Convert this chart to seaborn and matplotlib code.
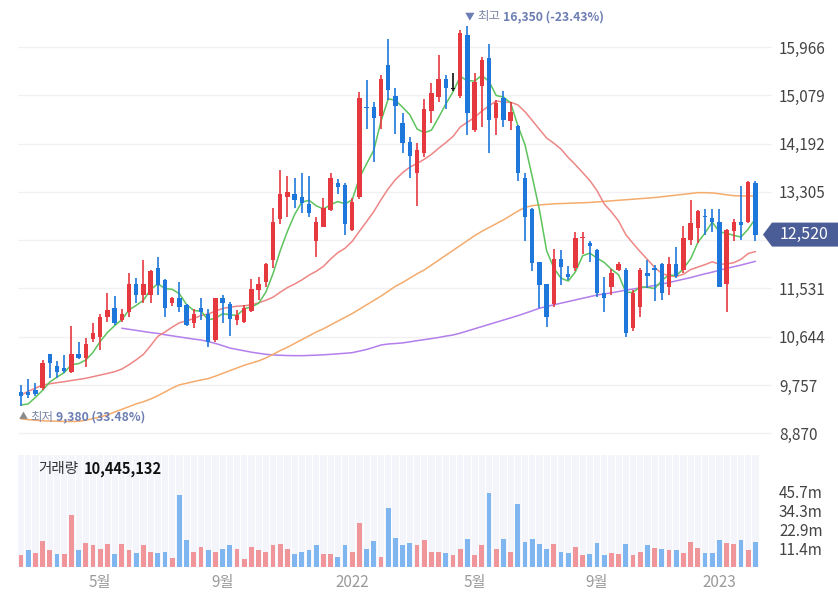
import numpy as np
import pandas as pd
import matplotlib.pyplot as plt
import seaborn as sns
from matplotlib.patches import Polygon

# weekly candles (price in won)
opens = [9622, 9629, 9665, 9696, 10320, 10112, 10076, 10002, 10320, 10253,
         10602, 10645, 11012, 11165, 10951, 11104, 11612, 11410, 11410, 11900,
         11686, 11270, 11349, 11227, 10902, 11165, 11055, 10584, 11361, 11245,
         10951, 10920, 11123, 11502, 11655, 12053, 12800, 13216, 13259, 13216,
         13082, 12408, 12665, 12972, 13461, 13431, 12604, 13216, 14857, 14870,
         14698, 15635, 15072, 14564, 14215, 13658, 14013, 14797, 15054, 15372,
         15188, 15066, 16186, 14441, 15250, 15770, 14656, 15023, 14613, 14515,
         13554, 12990, 12011, 11606, 11245, 12066, 11800, 11900, 12450, 12371,
         12236, 11453, 11563, 11870, 11869, 10810, 11196, 11808, 11912, 11973,
         11563, 11973, 11869, 12420, 12635, 12861, 12818, 12757, 11606, 12592,
         12757, 12757, 13473]
highs = [9757, 9867, 9800, 10216, 10330, 10204, 10308, 10847, 10541, 10614,
         10902, 11061, 11453, 11398, 11147, 11808, 11716, 12053, 11870, 12102,
         11710, 11380, 11643, 11245, 11147, 11349, 11147, 11360, 11410, 11288,
         11135, 11227, 11698, 11747, 11992, 13002, 13706, 13602, 13553, 13645,
         13602, 12849, 13198, 13645, 13541, 13461, 13186, 15145, 15360, 14962,
         15451, 16107, 15207, 14748, 14307, 14197, 15005, 15299, 15819, 15452,
         15482, 16278, 16350, 15482, 15789, 16021, 14992, 15158, 14962, 14533,
         13645, 13003, 12020, 11610, 12249, 12237, 11950, 12570, 12560, 12402,
         12249, 11747, 11881, 12010, 11900, 11502, 11900, 12053, 11961, 11992,
         12102, 12298, 12677, 13155, 12971, 12984, 12990, 12984, 12620, 12800,
         13412, 13504, 13504]
lows = [9380, 9512, 9560, 9665, 9880, 9880, 9984, 9984, 10240, 10094,
        10553, 10400, 10921, 10859, 10921, 11000, 11257, 11257, 11257, 11410,
        11000, 11214, 11092, 10840, 10810, 10951, 10461, 10553, 10902, 10657,
        10859, 10890, 11104, 11319, 11563, 11900, 12714, 12849, 13014, 12923,
        12849, 12102, 12653, 12953, 13259, 12512, 12592, 13168, 14453, 13860,
        14453, 14992, 14362, 14013, 13554, 13052, 13952, 14564, 14962, 14821,
        15164, 15023, 14350, 14411, 14503, 14013, 14350, 14503, 14441, 13511,
        12409, 11858, 11166, 10817, 11196, 11594, 11690, 11850, 12170, 12022,
        11379, 11104, 11410, 11850, 10644, 10749, 11012, 11532, 11306, 11318,
        11410, 11716, 11808, 12328, 12371, 12512, 12573, 11551, 11104, 12408,
        12420, 12726, 12408]
closes = [9561, 9580, 9592, 10167, 10167, 10002, 10010, 10320, 10253, 10510,
          10706, 11000, 11135, 10890, 11055, 11612, 11410, 11612, 11857, 11594,
          11165, 11349, 11196, 10859, 11055, 11104, 10553, 11349, 11269, 10963,
          11043, 11165, 11514, 11612, 11974, 12751, 13265, 13302, 13155, 13106,
          12923, 12757, 13002, 13553, 13400, 12714, 13125, 15023, 14845, 14655,
          15372, 15176, 14882, 14209, 13964, 14074, 14821, 15127, 15372, 15207,
          15188, 16217, 14760, 15329, 15727, 14625, 14931, 14625, 14778, 13658,
          12849, 12004, 11594, 11012, 12066, 11919, 11740, 12450, 12480, 12310,
          11453, 11349, 11820, 11980, 10706, 11441, 11869, 11759, 11869, 11441,
          11973, 11759, 12451, 12739, 12953, 12843, 12757, 11563, 12604, 12757,
          12696, 13492, 12520]

# moving averages as drawn (5 / 20 / 60 / 120)
ma5 = [9390, 9410, 9530, 9660, 9813, 9902, 9986, 10132, 10149, 10217,
       10358, 10558, 10721, 10848, 10957, 11138, 11220, 11316, 11509, 11617,
       11528, 11515, 11432, 11233, 11125, 11113, 10953, 10984, 11066, 11048,
       11035, 11158, 11191, 11259, 11462, 11803, 12223, 12581, 12889, 13116,
       13150, 13049, 12989, 13068, 13127, 13085, 13159, 13563, 13821, 14072,
       14604, 15014, 14986, 14859, 14721, 14461, 14390, 14439, 14672, 14920,
       15143, 15422, 15349, 15340, 15444, 15332, 15074, 15047, 14937, 14523,
       14168, 13583, 12977, 12223, 11905, 11719, 11666, 11837, 12131, 12180,
       12087, 12008, 11882, 11781, 11460, 11458, 11562, 11550, 11529, 11676,
       11782, 11760, 11899, 12073, 12375, 12549, 12749, 12571, 12544, 12505,
       12475, 12622, 12814]
ma20 = [9573, 9640, 9700, 9757, 9780, 9800, 9818, 9840, 9860, 9880,
        9910, 9940, 9970, 10002, 10050, 10130, 10220, 10320, 10480, 10651,
        10731, 10820, 10900, 10935, 10979, 11034, 11062, 11113, 11164, 11187,
        11204, 11212, 11231, 11267, 11313, 11370, 11462, 11547, 11612, 11687,
        11775, 11846, 11936, 12071, 12188, 12269, 12397, 12581, 12760, 12944,
        13161, 13361, 13530, 13659, 13759, 13825, 13903, 13994, 14105, 14210,
        14323, 14496, 14584, 14673, 14789, 14885, 14975, 14955, 14952, 14902,
        14776, 14617, 14453, 14293, 14198, 14090, 13936, 13803, 13658, 13513,
        13326, 13083, 12936, 12768, 12517, 12358, 12205, 12062, 11916, 11805,
        11761, 11749, 11792, 11878, 11923, 11969, 12020, 11975, 11982, 12004,
        12066, 12173, 12208]
ma60 = [9134, 9120, 9110, 9100, 9096, 9090, 9088, 9086, 9090, 9110,
        9140, 9170, 9210, 9260, 9310, 9360, 9410, 9450, 9500, 9560,
        9630, 9700, 9760, 9790, 9820, 9850, 9875, 9920, 9970, 10020,
        10070, 10120, 10160, 10200, 10253, 10320, 10390, 10450, 10520, 10590,
        10660, 10730, 10790, 10860, 10930, 11000, 11070, 11150, 11230, 11310,
        11390, 11480, 11570, 11640, 11720, 11800, 11870, 11960, 12050, 12140,
        12230, 12320, 12410, 12500, 12580, 12650, 12720, 12790, 12870, 12950,
        13020, 13050, 13065, 13075, 13085, 13090, 13095, 13100, 13105, 13110,
        13120, 13130, 13140, 13150, 13160, 13170, 13180, 13190, 13200, 13215,
        13230, 13245, 13260, 13275, 13290, 13290, 13285, 13270, 13250, 13235,
        13230, 13230, 13230]
ma120 = [None] * 14 + [
        10800, 10780, 10760, 10740, 10720, 10705,
        10680, 10660, 10640, 10620, 10600, 10583, 10555, 10520, 10480, 10436,
        10410, 10385, 10360, 10340, 10321, 10310, 10303, 10298, 10296, 10296,
        10300, 10305, 10312, 10320, 10330, 10340, 10351, 10380, 10410, 10450,
        10492, 10510, 10520, 10530, 10550, 10571, 10590, 10610, 10630, 10655,
        10676, 10710, 10750, 10790, 10830, 10870, 10910, 10950, 10990, 11030,
        11075, 11120, 11166, 11200, 11230, 11260, 11290, 11320, 11350, 11380,
        11410, 11430, 11450, 11475, 11500, 11520, 11540, 11560, 11585, 11612,
        11640, 11670, 11700, 11730, 11765, 11800, 11830, 11865, 11900, 11930,
        11960, 11995, 12029]

# weekly volume in millions, and bar colour (r = up, b = down)
volumes = [7.1, 10.1, 8.5, 15.6, 10.1, 7.7, 7.7, 31.3, 10.1, 14.5,
           13.1, 10.9, 13.7, 7.7, 13.7, 10.1, 8.5, 13.1, 9.3, 8.5,
           9.3, 5.5, 43.4, 16.2, 9.3, 12.3, 10.1, 9.3, 10.9, 13.1,
           10.9, 4.6, 12.3, 10.1, 9.3, 13.1, 13.7, 10.9, 7.7, 9.3,
           10.1, 13.1, 7.7, 7.7, 6.3, 13.1, 9.3, 26.7, 10.9, 15.6,
           6.3, 35.8, 17.8, 13.1, 14.5, 13.1, 16.2, 9.3, 9.3, 8.5,
           7.1, 10.9, 17.0, 7.1, 13.1, 44.8, 10.9, 17.0, 9.3, 38.2,
           15.4, 17.0, 13.9, 10.9, 13.9, 9.3, 8.5, 12.3, 7.1, 7.7,
           14.5, 7.1, 8.5, 7.7, 13.9, 7.1, 9.3, 13.1, 11.7, 10.9,
           10.1, 10.1, 8.5, 15.4, 11.7, 8.5, 8.5, 16.2, 14.5, 13.9,
           16.2, 10.1, 15.4]
vol_dir = list("rbrrrbrrbrrrrbrrbrrbbrbbrrbrbbrrrrrrrrbbbbrrbbrrbbrbbbbrrrrbrrbrrbrbrbbbbbrbbrrbbbrrbrrbrbrbrrrbbbrrbrb")

price_ticks = [8870, 9757, 10644, 11531, 12418, 13305, 14192, 15079, 15966]
vol_ticks = [11.43, 22.86, 34.29, 45.72]
vol_tick_labels = ["11.4m", "22.9m", "34.3m", "45.7m"]
month_pos = [11, 28, 46, 63, 80, 97]
month_labels = ["5월", "9월", "2022", "5월", "9월", "2023"]

UP, DOWN, FLAT = "#e5383f", "#1e78dc", "#111111"
VOL_UP, VOL_DOWN = "#f0969a", "#80b6ef"

df = pd.DataFrame({"i": np.arange(len(closes)), "open": opens, "high": highs,
                   "low": lows, "close": closes, "ma5": ma5, "ma20": ma20,
                   "ma60": ma60, "ma120": pd.array(ma120, dtype="Float64").astype(float)})
df["color"] = np.where(df.close > df.open, UP, np.where(df.close < df.open, DOWN, FLAT))

sns.set_style("white")
plt.rcParams["font.family"] = ["Noto Sans CJK KR", "DejaVu Sans"]

W, H = 838, 599
fig = plt.figure(figsize=(W / 100, H / 100), dpi=100, facecolor="white")
ax = fig.add_axes([18 / W, 154 / H, 754 / W, 437 / H])
vax = fig.add_axes([18 / W, 32 / H, 754 / W, 112 / H])

xmin, xmax = -0.42, 104.3
last = closes[-1]

# price panel
for t in price_ticks:
    ax.axhline(t, color="#f1f1f3", lw=1, zorder=0)

for name, col in [("ma120", "#b27fec"), ("ma60", "#f5ab6c"), ("ma20", "#ee8686"), ("ma5", "#5dc35d")]:
    sns.lineplot(data=df, x="i", y=name, ax=ax, color=col, lw=1.1, estimator=None, zorder=2)

ax.vlines(df.i, df.low, df.high, colors=df.color, lw=1.2, zorder=3)
body = (df.close - df.open).abs().clip(lower=18)
ax.bar(df.i, body, bottom=np.minimum(df.open, df.close), width=0.62,
       color=df.color, zorder=4, linewidth=0)

ax.set_xlim(xmin, xmax)
ax.set_ylim(8655, 16682)
ax.set_xticks([])
ax.yaxis.tick_right()
ax.set_yticks(price_ticks)
# the gridline next to the current price keeps its line; its label sits under the price tag
ax.set_yticklabels([f"{t:,}" if abs(t - last) > 300 else "" for t in price_ticks])
ax.tick_params(axis="y", length=0, pad=5, labelsize=11, labelcolor="#444444")
ax.set_xlabel("")
ax.set_ylabel("")
for s in ax.spines.values():
    s.set_visible(False)

# high / low markers
hi_i = int(np.argmax(highs))
lo_i = int(np.argmin(lows))
m1 = ax.text(hi_i - 0.35, 16520, "▼", fontsize=7, color="#6b7db4", va="center", ha="left")
m2 = ax.annotate("최고", xy=(1, 0.5), xycoords=m1, xytext=(2, 0), textcoords="offset points",
                 va="center", fontsize=9, color="#7d88a8")
ax.annotate(f"{max(highs):,} ({(last - max(highs)) / max(highs) * 100:.2f}%)", xy=(1, 0.5),
            xycoords=m2, xytext=(2, 0), textcoords="offset points", va="center",
            fontsize=8.8, fontweight="bold", color="#6d7eb3")
m3 = ax.text(lo_i - 0.35, 9169, "▲", fontsize=6.5, color="#8a8a8a", va="center", ha="left")
m4 = ax.annotate("최저", xy=(1, 0.5), xycoords=m3, xytext=(2, 0), textcoords="offset points",
                 va="center", fontsize=9, color="#7d88a8")
ax.annotate(f"{min(lows):,} ({(last - min(lows)) / min(lows) * 100:.2f}%)", xy=(1, 0.5),
            xycoords=m4, xytext=(2, 0), textcoords="offset points", va="center",
            fontsize=8.8, fontweight="bold", color="#6d7eb3")

# volume panel
vax.bar(df.i, [67.9] * len(df), width=0.86, color="#f3f5fa", linewidth=0, zorder=0)
vax.bar(df.i, volumes, width=0.68, linewidth=0, zorder=2,
        color=[VOL_UP if d == "r" else VOL_DOWN for d in vol_dir])
vax.set_xlim(xmin, xmax)
vax.set_ylim(0, 67.9)
vax.yaxis.tick_right()
vax.set_yticks(vol_ticks)
vax.set_yticklabels(vol_tick_labels)
vax.set_xticks(month_pos)
vax.set_xticklabels(month_labels)
vax.tick_params(axis="y", length=0, pad=5, labelsize=11, labelcolor="#444444")
vax.tick_params(axis="x", length=0, pad=5, labelsize=11, labelcolor="#9a9a9a")
for s in vax.spines.values():
    s.set_visible(False)
v1 = vax.text(0.0265, 0.875, "거래량", transform=vax.transAxes, fontsize=10.5,
              color="#333333", va="center", ha="left")
vax.annotate("10,445,132", xy=(1, 0.5), xycoords=v1, xytext=(4, 0), textcoords="offset points",
             va="center", fontsize=10.5, fontweight="bold", color="#111111")

# current price tag
y_disp = ax.transData.transform((0, last))[1] / H
hh = 12 / H
tag = Polygon([(763 / W, y_disp), (772 / W, y_disp + hh), (1.0, y_disp + hh),
               (1.0, y_disp - hh), (772 / W, y_disp - hh)], closed=True,
              transform=fig.transFigure, facecolor="#4b5d96", edgecolor="none", zorder=5)
fig.add_artist(tag)
fig.text(780 / W, y_disp, f"{last:,}", color="white", fontsize=11.5, va="center",
         ha="left", zorder=6)

fig.savefig("out.png", dpi=100, facecolor="white")
